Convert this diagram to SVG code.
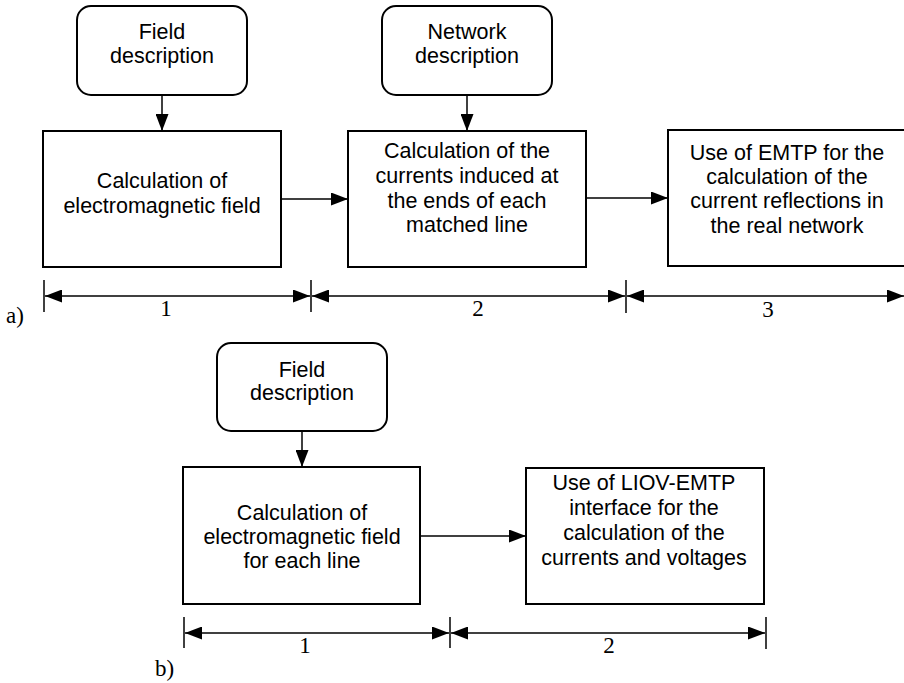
<svg xmlns="http://www.w3.org/2000/svg" width="904" height="683" viewBox="0 0 904 683">
<style>
.box{fill:#fff;stroke:#000;stroke-width:2}
.t{font-family:"Liberation Sans",Arial,sans-serif;font-size:21.5px;text-anchor:middle;fill:#000}
.n{font-family:"Liberation Serif","Times New Roman",serif;font-size:23px;text-anchor:middle;fill:#000}
.l{font-family:"Liberation Serif","Times New Roman",serif;font-size:23px;fill:#000}
.c{stroke:#000;stroke-width:1.5;fill:none}
.tick{stroke:#000;stroke-width:1.5}
</style>
<defs>
<marker id="ah" markerWidth="17" markerHeight="13" refX="17" refY="6.5" orient="auto" markerUnits="userSpaceOnUse">
<path d="M0,0 L17,6.5 L0,13 Z" fill="#000"/>
</marker>
<marker id="as" markerWidth="17" markerHeight="13" refX="0" refY="6.5" orient="auto" markerUnits="userSpaceOnUse">
<path d="M17,0 L0,6.5 L17,13 Z" fill="#000"/>
</marker>
</defs>
<g id="a-field-desc"><rect class="box" x="77" y="6" width="170" height="89" rx="14"/><text class="t" x="162" y="39">Field</text><text class="t" x="162" y="63">description</text></g>
<g id="a-net-desc"><rect class="box" x="382" y="6" width="170" height="89" rx="14"/><text class="t" x="467" y="39">Network</text><text class="t" x="467" y="63">description</text></g>
<g id="a-calc-field"><rect class="box" x="43" y="131" width="238" height="136"/><text class="t" x="162" y="188">Calculation of</text><text class="t" x="162" y="213">electromagnetic field</text></g>
<g id="a-calc-currents"><rect class="box" x="348" y="131" width="238" height="136"/><text class="t" x="467" y="158">Calculation of the</text><text class="t" x="467" y="183">currents induced at</text><text class="t" x="467" y="208">the ends of each</text><text class="t" x="467" y="232">matched line</text></g>
<g id="a-emtp"><rect class="box" x="668" y="130" width="240" height="136"/><text class="t" x="787" y="160">Use of EMTP for the</text><text class="t" x="787" y="184">calculation of the</text><text class="t" x="787" y="208">current reflections in</text><text class="t" x="787" y="233">the real network</text></g>
<g id="b-field-desc"><rect class="box" x="217" y="343" width="170" height="88" rx="14"/><text class="t" x="302" y="377">Field</text><text class="t" x="302" y="400">description</text></g>
<g id="b-calc-field"><rect class="box" x="183" y="467" width="237" height="137"/><text class="t" x="302" y="520">Calculation of</text><text class="t" x="302" y="544">electromagnetic field</text><text class="t" x="302" y="568">for each line</text></g>
<g id="b-liov"><rect class="box" x="526" y="468" width="238" height="136"/><text class="t" x="644" y="490">Use of LIOV-EMTP</text><text class="t" x="644" y="515">interface for the</text><text class="t" x="644" y="540">calculation of the</text><text class="t" x="644" y="565">currents and voltages</text></g>
<g id="connectors">
<line class="c" x1="162" y1="95" x2="162" y2="131" marker-end="url(#ah)"/>
<line class="c" x1="467" y1="95" x2="467" y2="131" marker-end="url(#ah)"/>
<line class="c" x1="281" y1="199" x2="348" y2="199" marker-end="url(#ah)"/>
<line class="c" x1="586" y1="198" x2="668" y2="198" marker-end="url(#ah)"/>
<line class="c" x1="302" y1="431" x2="302" y2="467" marker-end="url(#ah)"/>
<line class="c" x1="420" y1="536" x2="526" y2="536" marker-end="url(#ah)"/>
</g>
<g id="dimensions">
<line class="tick" x1="44" y1="280" x2="44" y2="312"/>
<line class="tick" x1="311" y1="280" x2="311" y2="312"/>
<line class="tick" x1="626" y1="280" x2="626" y2="313"/>
<line class="c" x1="45" y1="296" x2="310" y2="296" marker-start="url(#as)" marker-end="url(#ah)"/>
<line class="c" x1="312" y1="296" x2="625" y2="296" marker-start="url(#as)" marker-end="url(#ah)"/>
<line class="c" x1="627" y1="296" x2="904" y2="296" marker-start="url(#as)" marker-end="url(#ah)"/>
<text class="n" x="166" y="316">1</text>
<text class="n" x="478" y="316">2</text>
<text class="n" x="768" y="317">3</text>
<text class="l" x="6" y="323">a)</text>
<line class="tick" x1="184" y1="617" x2="184" y2="648"/>
<line class="tick" x1="450" y1="617" x2="450" y2="648"/>
<line class="tick" x1="766" y1="617" x2="766" y2="649"/>
<line class="c" x1="185" y1="633" x2="449" y2="633" marker-start="url(#as)" marker-end="url(#ah)"/>
<line class="c" x1="451" y1="633" x2="765" y2="633" marker-start="url(#as)" marker-end="url(#ah)"/>
<text class="n" x="305" y="653">1</text>
<text class="n" x="609" y="653">2</text>
<text class="l" x="155" y="676">b)</text>
</g>
</svg>
